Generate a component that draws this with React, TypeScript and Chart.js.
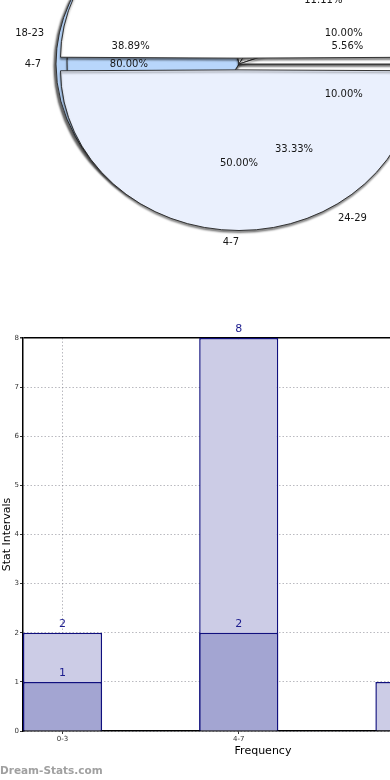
import React, { useEffect, useRef } from "react";
import { Chart, registerables } from "chart.js";

Chart.register(...registerables);
Chart.defaults.font.family = "'DejaVu Sans', sans-serif";

// ---------- Pie data (three overlapping pies) ----------
const pieBackLabels = ["4-7", "0-3", "8-11"];
const pieBackCounts = [8, 1, 1];
const pieMidLabels = ["24-29", "18-23", "30-35", "36-41", "12-17"];
const pieMidCounts = [6, 7, 2, 2, 1];
const pieFrontLabels = ["0-3", "4-7"];
const pieFrontCounts = [2, 2];

// ---------- Bar data ----------
const barCategories = ["0-3", "4-7", "8-11"];
const backSeries = [2, 8, 1];
const frontSeries = [1, 2, 0];
const yMax = 8;

// ---------- styles ----------
const PIE_SY = 0.9;
const PIE_R = 172;
const BAR_PCT = 0.449;

export default function App() {
  const backRef = useRef<HTMLCanvasElement>(null);
  const midRef = useRef<HTMLCanvasElement>(null);
  const frontRef = useRef<HTMLCanvasElement>(null);
  const barRef = useRef<HTMLCanvasElement>(null);

  useEffect(() => {
    const pies: Chart[] = [];
    // squash the pie vertically (ellipse) and add a soft drop shadow
    const shapePlugin = (sx: number, sy: number, alpha: number) => ({
      id: "pieShape",
      beforeDatasetsDraw(chart: any) {
        const c = chart.ctx;
        const a = chart.chartArea;
        const cy = (a.top + a.bottom) / 2;
        c.save();
        c.translate(0, cy);
        c.scale(1, PIE_SY);
        c.translate(0, -cy);
        c.shadowColor = `rgba(0,0,0,${alpha})`;
        c.shadowBlur = 2;
        c.shadowOffsetX = sx;
        c.shadowOffsetY = sy;
      },
      afterDatasetsDraw(chart: any) {
        chart.ctx.restore();
      },
    });
    const labelPlugin = {
      id: "pieLabels",
      afterDatasetsDraw(chart: any) {
        const ctx = chart.ctx;
        const all = [pies[0], pies[1], chart];
        ctx.save();
        ctx.font = "10px 'DejaVu Sans'";
        ctx.fillStyle = "#161616";
        ctx.textBaseline = "middle";
        for (const c of all) {
          const ds = c.data.datasets[0];
          const vals = ds.data as number[];
          const total = vals.reduce((a, b) => a + b, 0);
          const meta = c.getDatasetMeta(0);
          meta.data.forEach((arc: any, i: number) => {
            const mid = (arc.startAngle + arc.endAngle) / 2;
            const cs = Math.cos(mid);
            const sn = Math.sin(mid) * PIE_SY;
            const pr = PIE_R * 0.64;
            const lr = PIE_R * 1.15;
            ctx.textAlign = "center";
            ctx.fillText(((vals[i] / total) * 100).toFixed(2) + "%", arc.x + pr * cs, arc.y + pr * sn);
            ctx.textAlign = cs > 1e-6 ? "left" : "right";
            ctx.fillText(String(c.data.labels[i]), arc.x + lr * cs, arc.y + lr * sn);
          });
        }
        ctx.restore();
      },
    };

    const makePie = (
      canvas: HTMLCanvasElement,
      labels: string[],
      counts: number[],
      colors: string[],
      offsets: number[],
      rotation: number,
      extra: any[]
    ) =>
      new Chart(canvas, {
        type: "pie",
        data: {
          labels,
          datasets: [
            {
              data: counts,
              backgroundColor: colors,
              borderColor: "#2a2a2a",
              borderWidth: 1,
              // Chart.js moves an arc by offset / 4 pixels
              offset: offsets.map((o) => o * 4),
            } as any,
          ],
        },
        options: {
          animation: false,
          responsive: false,
          events: [],
          radius: PIE_R,
          rotation,
          layout: { padding: 0 },
          plugins: { legend: { display: false }, tooltip: { enabled: false } },
        } as any,
        plugins: extra,
      });

    pies.push(
      makePie(backRef.current!, pieBackLabels, pieBackCounts, ["#b5d3f8", "#ffffff", "#e2e698"], [5.5, 5.5, 5.5], 126, [
        shapePlugin(-2, 2, 0.6),
      ])
    );
    pies.push(
      makePie(
        midRef.current!,
        pieMidLabels,
        pieMidCounts,
        ["#ffffff", "#b8d6fb", "#ffffff", "#ffffff", "#ffffff"],
        [0, 0, 0, 0, 0],
        90,
        [shapePlugin(0, 2, 0.45)]
      )
    );
    pies.push(
      makePie(frontRef.current!, pieFrontLabels, pieFrontCounts, ["#ffffff", "#eaf0fd"], [6.5, 6.5], 270, [
        shapePlugin(0, 2, 0.45),
        labelPlugin,
      ])
    );

    const barLabelPlugin = {
      id: "barLabels",
      afterDatasetsDraw(chart: any) {
        const ctx = chart.ctx;
        ctx.save();
        ctx.font = "11px 'DejaVu Sans'";
        ctx.fillStyle = "#1c1c8e";
        ctx.textAlign = "center";
        ctx.textBaseline = "middle";
        chart.data.datasets.forEach((ds: any, di: number) => {
          const meta = chart.getDatasetMeta(di);
          meta.data.forEach((el: any, i: number) => {
            const v = ds.data[i].y;
            if (!v) return;
            ctx.fillText(String(v), el.x, el.y - 9);
          });
        });
        ctx.restore();
      },
    };

    const gridGray = "rgba(130,130,140,0.55)";
    const bar = new Chart(barRef.current!, {
      type: "bar",
      data: {
        datasets: [
          {
            label: "front",
            data: frontSeries.map((v, i) => ({ x: i, y: v })),
            backgroundColor: "#a3a5d2",
            borderColor: "#10107e",
            borderWidth: 1.5,
            grouped: false,
            barPercentage: BAR_PCT,
            categoryPercentage: 1,
            order: 0,
          } as any,
          {
            label: "back",
            data: backSeries.map((v, i) => ({ x: i, y: v })),
            backgroundColor: "#ccccE6",
            borderColor: "#10107e",
            borderWidth: 1.5,
            grouped: false,
            barPercentage: BAR_PCT,
            categoryPercentage: 1,
            order: 1,
          } as any,
        ],
      },
      options: {
        animation: false,
        responsive: false,
        events: [],
        layout: { padding: { top: 38, left: 0, right: 0, bottom: 0 } },
        plugins: { legend: { display: false }, tooltip: { enabled: false } },
        scales: {
          x: {
            type: "linear",
            offset: false,
            min: -BAR_PCT / 2,
            max: barCategories.length - 0.5,
            afterBuildTicks: (s: any) => {
              s.ticks = barCategories.map((_, i) => ({ value: i }));
            },
            afterFit: (s: any) => {
              s.height = 30;
            },
            ticks: {
              callback: (v: any) => barCategories[Math.round(Number(v))] ?? "",
              font: { size: 7 },
              color: "#333",
              padding: 1,
              maxRotation: 0,
              autoSkip: false,
            },
            grid: { offset: false, color: gridGray, tickLength: 3, tickColor: "#333", lineWidth: 1 },
            border: { display: true, color: "#000", width: 1.5, dash: [1.5, 2] },
            title: { display: true, text: "Frequency", font: { size: 11 }, color: "#000", padding: { top: 0, bottom: 3 } },
            z: 1,
          },
          y: {
            min: 0,
            max: yMax,
            afterFit: (s: any) => {
              s.width = 23;
            },
            ticks: { stepSize: 1, font: { size: 7 }, color: "#333", padding: 1 },
            grid: {
              color: (c: any) => (c.tick && c.tick.value === yMax ? "#000" : gridGray),
              lineWidth: (c: any) => (c.tick && c.tick.value === yMax ? 1.5 : 1),
              tickLength: 3,
              tickColor: "#333",
            },
            border: {
              display: true,
              color: "#000",
              width: 1.5,
              dash: (c: any) => (c.tick && c.tick.value === yMax ? [] : [1.5, 2]),
            },
            title: { display: true, text: "Stat Intervals", font: { size: 11 }, color: "#000", padding: { top: 1, bottom: 0 } },
            z: 1,
          },
        },
      } as any,
      plugins: [barLabelPlugin],
    });

    return () => {
      pies.forEach((p) => p.destroy());
      bar.destroy();
    };
  }, []);

  const canvasStyle: React.CSSProperties = { position: "absolute", left: 0, top: 0, display: "block" };

  return (
    <div
      style={{
        position: "fixed",
        left: 0,
        top: 0,
        width: 390,
        height: 780,
        overflow: "hidden",
        background: "#fff",
      }}
    >
      <div style={{ position: "absolute", left: -11, top: -186, width: 500, height: 500 }}>
        <canvas ref={backRef} width={500} height={500} style={canvasStyle} />
        <canvas ref={midRef} width={500} height={500} style={canvasStyle} />
        <canvas ref={frontRef} width={500} height={500} style={canvasStyle} />
      </div>
      <canvas ref={barRef} width={503} height={461} style={{ position: "absolute", left: 0, top: 300, display: "block" }} />
      <div
        style={{
          position: "absolute",
          left: 0,
          top: 762,
          fontFamily: "'DejaVu Sans', sans-serif",
          fontSize: 10.5,
          fontWeight: "bold",
          lineHeight: "16px",
          color: "#a0a0a0",
          whiteSpace: "nowrap",
        }}
      >
        Dream-Stats.com
      </div>
    </div>
  );
}
